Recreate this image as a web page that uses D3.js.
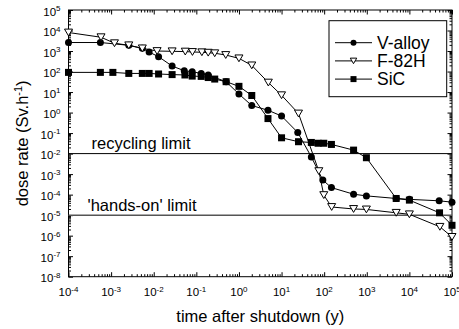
<!DOCTYPE html>
<html>
<head>
<meta charset="utf-8">
<script src="https://cdn.jsdelivr.net/npm/d3@7"></script>
<style>
  body { margin: 0; background: #fff; }
  svg { display: block; font-family: Arial, "Liberation Sans", sans-serif; }
</style>
</head>
<body>
<div id="chart"></div>
<script>
const W = 459, H = 329;

// time after shutdown (y) and dose rate (Sv/h)
const vTime = [1e-4, 5.6e-4, 2.6e-3, 5.4e-3, 7.8e-3, 1.3e-2, 2.7e-2, 5.2e-2, 8e-2, 1.3e-1, 1.9e-1, 5e-1, 1, 2, 4.8, 10, 24, 50, 93, 148, 490, 980, 4900, 1e4, 5e4, 1e5];
const vDose = [2600, 2600, 1900, 1350, 890, 530, 185, 110, 98, 81, 67, 32, 8, 2.2, 1.3, 0.68, 0.107, 6.9e-3, 5.1e-4, 2.2e-4, 1.05e-4, 8.7e-5, 6.5e-5, 5.9e-5, 5e-5, 4.3e-5];

const fTime = [1e-4, 5.8e-4, 1.2e-3, 2.6e-3, 5.4e-3, 1.2e-2, 2.7e-2, 5.5e-2, 8.1e-2, 1.35e-1, 1.9e-1, 2.7e-1, 4.9e-1, 1, 2, 4.9, 10, 25, 75, 98, 150, 490, 980, 4900, 1e4, 5.2e4, 1e5];
const fDose = [8000, 4700, 2400, 1900, 1350, 1000, 970, 940, 900, 870, 830, 780, 640, 440, 200, 29, 7, 0.9, 1.4e-3, 9.5e-5, 2.5e-5, 2.0e-5, 1.9e-5, 1.3e-5, 1.1e-5, 2.7e-6, 8.7e-7];

const sTime = [1e-4, 5.6e-4, 1.1e-3, 2.6e-3, 5.4e-3, 7.8e-3, 1.3e-2, 2.7e-2, 5.4e-2, 8e-2, 1.3e-1, 1.9e-1, 2.7e-1, 5e-1, 1, 2, 4.8, 10, 25, 50, 72, 98, 148, 490, 980, 4900, 1e4, 5.1e4, 1e5];
const sDose = [91, 91, 91, 81, 81, 81, 76, 71, 68, 60, 58, 51, 43, 32, 19, 6.8, 0.51, 0.059, 0.038, 0.035, 0.032, 0.032, 0.028, 0.0148, 0.0063, 6.5e-5, 5.4e-5, 1.3e-5, 3.2e-6];

const xExponents = [-4, -3, -2, -1, 0, 1, 2, 3, 4, 5];
const yExponents = [-8, -7, -6, -5, -4, -3, -2, -1, 0, 1, 2, 3, 4, 5];

const limitValues = [1e-2, 1e-5];
const limitLabels = ["recycling limit", "'hands-on' limit"];

const seriesNames = ["V-alloy", "F-82H", "SiC"];
const seriesShapes = ["circle", "triangle", "square"];

const series = [
  { name: seriesNames[0], shape: seriesShapes[0], pts: vTime.map((t, i) => [t, vDose[i]]) },
  { name: seriesNames[1], shape: seriesShapes[1], pts: fTime.map((t, i) => [t, fDose[i]]) },
  { name: seriesNames[2], shape: seriesShapes[2], pts: sTime.map((t, i) => [t, sDose[i]]) },
];

const margin = { left: 68.5, right: 7, top: 10, bottom: 52.3 };
const x = d3.scaleLog().domain([1e-4, 1e5]).range([margin.left, W - margin.right]);
const y = d3.scaleLog().domain([1e-8, 1e5]).range([H - margin.bottom, margin.top]);

const svg = d3.select("#chart").append("svg").attr("width", W).attr("height", H);

function minors(lo, hi) {
  const out = [];
  for (let e = lo; e < hi; e++) for (let k = 2; k <= 9; k++) out.push(k * Math.pow(10, e));
  return out;
}
const xMajor = xExponents.map((e) => Math.pow(10, e));
const yMajor = yExponents.map((e) => Math.pow(10, e));
const xMinor = minors(-4, 5);
const yMinor = minors(-8, 5);

const x0 = x.range()[0], x1 = x.range()[1], y0 = y.range()[0], y1 = y.range()[1];

// ticks pointing inward on all four sides
function addAxis(axisFn, scale, vals, size, transform) {
  const g = svg.append("g").attr("transform", transform)
    .call(axisFn(scale).tickValues(vals).tickSize(size).tickFormat(""));
  g.select(".domain").remove();
  g.selectAll(".tick line").attr("stroke", "#000").attr("stroke-width", 1);
}
addAxis(d3.axisBottom, x, xMajor, -4.5, `translate(0,${y0})`);
addAxis(d3.axisBottom, x, xMinor, -2.5, `translate(0,${y0})`);
addAxis(d3.axisTop, x, xMajor, -4.5, `translate(0,${y1})`);
addAxis(d3.axisTop, x, xMinor, -2.5, `translate(0,${y1})`);
addAxis(d3.axisLeft, y, yMajor, -4.5, `translate(${x0},0)`);
addAxis(d3.axisLeft, y, yMinor, -2.5, `translate(${x0},0)`);
addAxis(d3.axisRight, y, yMajor, -4.5, `translate(${x1},0)`);
addAxis(d3.axisRight, y, yMinor, -2.5, `translate(${x1},0)`);

svg.append("rect")
  .attr("x", x0).attr("y", y1).attr("width", x1 - x0).attr("height", y0 - y1)
  .attr("fill", "none").attr("stroke", "#000").attr("stroke-width", 1);

// tick labels 10^n
function powLabel(sel, e) {
  sel.append("tspan").text("10");
  sel.append("tspan").attr("dy", -4.5).attr("font-size", 8).text(e);
}
svg.append("g").selectAll("text").data(xExponents).join("text")
  .attr("x", (e) => x(Math.pow(10, e)))
  .attr("y", y0 + 19.5)
  .attr("text-anchor", "middle")
  .attr("font-size", 11.5)
  .each(function (e) { powLabel(d3.select(this), e); });

svg.append("g").selectAll("text").data(yExponents).join("text")
  .attr("x", x0 - 8)
  .attr("y", (e) => y(Math.pow(10, e)) + 5.5)
  .attr("text-anchor", "end")
  .attr("font-size", 11.5)
  .each(function (e) { powLabel(d3.select(this), e); });

// limit lines
const limitColors = ["#000", "#555"];
const limitWidths = [1, 1.5];
limitValues.forEach((v, i) => {
  svg.append("line")
    .attr("x1", x0).attr("x2", x1).attr("y1", y(v)).attr("y2", y(v))
    .attr("stroke", limitColors[i]).attr("stroke-width", limitWidths[i]);
});
svg.append("text").attr("x", 91.5).attr("y", y(limitValues[0]) - 4.5)
  .attr("font-size", 16.5).text(limitLabels[0]);
svg.append("text").attr("x", 87.5).attr("y", y(limitValues[1]) - 4.2)
  .attr("font-size", 16.5).text(limitLabels[1]);

// series
const line = d3.line().x((d) => x(d[0])).y((d) => y(d[1]));

function drawMarker(g, shape, cx, cy, s) {
  if (shape === "circle") {
    g.append("circle").attr("cx", cx).attr("cy", cy).attr("r", s * 0.5).attr("fill", "#000");
  } else if (shape === "square") {
    g.append("rect").attr("x", cx - s / 2).attr("y", cy - s / 2).attr("width", s).attr("height", s).attr("fill", "#000");
  } else {
    const h = s * 0.85;
    g.append("path")
      .attr("d", `M${cx - s / 2},${cy - h / 2}L${cx + s / 2},${cy - h / 2}L${cx},${cy + h / 2}Z`)
      .attr("fill", "#fff").attr("stroke", "#000").attr("stroke-width", 1);
  }
}

series.forEach((s) => {
  svg.append("path").datum(s.pts).attr("d", line)
    .attr("fill", "none").attr("stroke", "#000").attr("stroke-width", 1);
});
series.forEach((s) => {
  const g = svg.append("g");
  s.pts.forEach((p) => drawMarker(g, s.shape, x(p[0]), y(p[1]), s.shape === "triangle" ? 8 : 7));
});

// legend
const lg = svg.append("g");
lg.append("rect").attr("x", 329).attr("y", 20.7).attr("width", 117.7).attr("height", 76)
  .attr("fill", "#fff").attr("stroke", "#000").attr("stroke-width", 1);
series.forEach((s, i) => {
  const ly = 42.7 + i * 18.2;
  lg.append("line").attr("x1", 335).attr("x2", 372).attr("y1", ly).attr("y2", ly)
    .attr("stroke", "#000").attr("stroke-width", 1);
  drawMarker(lg, s.shape, 353.5, ly, s.shape === "triangle" ? 6.5 : 6);
  lg.append("text").attr("x", 377).attr("y", ly + 6).attr("font-size", 17.5).text(s.name);
});

// axis titles
svg.append("text")
  .attr("x", (x0 + x1) / 2).attr("y", 322)
  .attr("text-anchor", "middle").attr("font-size", 16.5)
  .text("time after shutdown (y)");

const yt = svg.append("text")
  .attr("transform", `translate(28,${(y0 + y1) / 2}) rotate(-90)`)
  .attr("text-anchor", "middle").attr("font-size", 16.5);
yt.append("tspan").text("dose rate (Sv.h");
yt.append("tspan").attr("dy", -6).attr("font-size", 11).text("-1");
yt.append("tspan").attr("dy", 6).text(")");
</script>
</body>
</html>
